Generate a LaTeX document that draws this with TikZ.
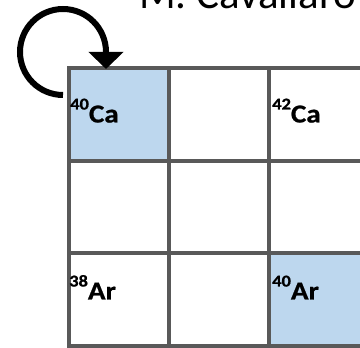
\documentclass[tikz,border=0pt]{standalone}
\usepackage{fontspec}
\setmainfont{Carlito}
\newfontfamily\labfont[FakeStretch=1.12,FakeBold=0.8]{Carlito}
\newfontfamily\titfont{Carlito}
\usetikzlibrary{arrows.meta}
\definecolor{cellblue}{HTML}{BDD7EE}
\definecolor{gridgray}{HTML}{595959}
\tikzset{
  cell/.style={draw=gridgray, line width=4pt, minimum width=100pt, minimum height=92.7pt, inner sep=0pt, outer sep=0pt},
  lab/.style={anchor=base west, inner sep=0pt, font=\labfont\bfseries\fontsize{26}{26}\selectfont},
  selfloop/.style={line width=6pt, -{Triangle[width=34pt,length=17pt]}},
}
\newcommand{\iso}[2]{\raisebox{13pt}{\fontsize{16.5}{16.5}\selectfont #1}#2}
\begin{document}
\begin{tikzpicture}[x=1pt,y=1pt]
\useasboundingbox (0,0) rectangle (360,348);
\clip (0,0) rectangle (360,348);
\node[cell, fill=cellblue] (c11) at (119,233.65) {};
\node[cell, fill=white] (c12) at (219,233.65) {};
\node[cell, fill=white] (c13) at (319,233.65) {};
\node[cell, fill=white] (c21) at (119,141) {};
\node[cell, fill=white] (c22) at (219,141) {};
\node[cell, fill=white] (c23) at (319,141) {};
\node[cell, fill=white] (c31) at (119,48.35) {};
\node[cell, fill=white] (c32) at (219,48.35) {};
\node[cell, fill=cellblue] (c33) at (319,48.35) {};
\node[lab] (l11) at (70,225.5) {\iso{40}{Ca}};
\node[lab] (l13) at (272,225.5) {\iso{42}{Ca}};
\node[lab] (l31) at (69,48.5) {\iso{38}{Ar}};
\node[lab] (l33) at (272,48.5) {\iso{40}{Ar}};
\node[anchor=base west, inner sep=0pt, font=\titfont\fontsize{43}{43}\selectfont] (title) at (139,339) {M. Cavallaro};
\draw[selfloop] ([shift={(-6pt,-27pt)}]c11.north west) arc[start angle=270, end angle=0, radius=43pt] -- ([shift={(37pt,-1pt)}]c11.north west);
\end{tikzpicture}
\end{document}
